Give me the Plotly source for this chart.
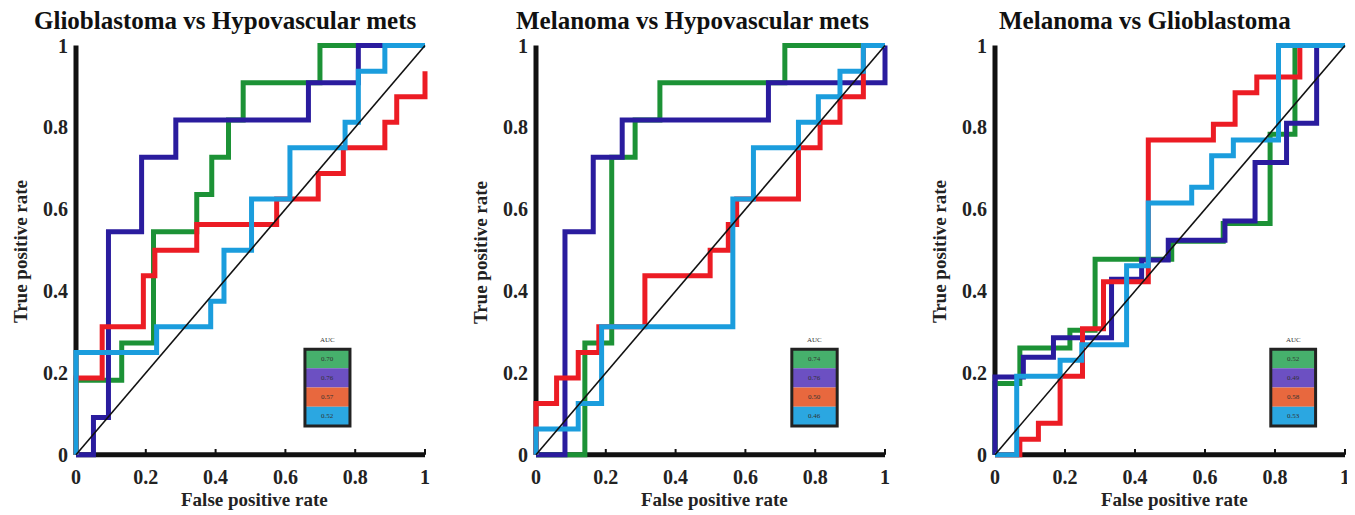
import plotly.graph_objects as go

# ---------------- data ----------------
titles = ["Glioblastoma vs Hypovascular mets",
          "Melanoma vs Hypovascular mets",
          "Melanoma vs Glioblastoma"]
x_title = "False positive rate"
y_title = "True positive rate"
tick_vals = [0, 0.2, 0.4, 0.6, 0.8, 1]
tick_text = ["0", "0.2", "0.4", "0.6", "0.8", "1"]
series_names = ["ROC 1", "ROC 2", "ROC 3", "ROC 4"]

# Panel 1: Glioblastoma vs Hypovascular mets (ROC vertices, step curve)
p1_green_fpr = [0, 0, 0.131, 0.222, 0.346, 0.389, 0.437, 0.479, 0.699, 1.0]
p1_green_tpr = [0, 0.182, 0.273, 0.545, 0.636, 0.727, 0.818, 0.909, 1.0, 1.0]
p1_blue_fpr = [0, 0.05, 0.093, 0.188, 0.286, 0.666, 0.809, 1.0]
p1_blue_tpr = [0, 0.091, 0.545, 0.727, 0.818, 0.909, 1.0, 1.0]
p1_red_fpr = [0, 0, 0.075, 0.193, 0.226, 0.346, 0.575, 0.694, 0.766, 0.885, 0.919, 1.0]
p1_red_tpr = [0, 0.1875, 0.3125, 0.4375, 0.5, 0.5625, 0.625, 0.6875, 0.75, 0.8125, 0.875, 0.9375]
p1_cyan_fpr = [0, 0, 0.231, 0.386, 0.424, 0.503, 0.613, 0.771, 0.809, 0.885, 1.0]
p1_cyan_tpr = [0, 0.25, 0.3125, 0.375, 0.5, 0.625, 0.75, 0.8125, 0.9375, 1.0, 1.0]
p1_auc = [0.70, 0.76, 0.57, 0.52]

# Panel 2: Melanoma vs Hypovascular mets
p2_green_fpr = [0, 0.14, 0.217, 0.284, 0.355, 0.713, 1.0]
p2_green_tpr = [0, 0.273, 0.727, 0.818, 0.909, 1.0, 1.0]
p2_blue_fpr = [0, 0.083, 0.164, 0.247, 0.666, 1.0, 1.0]
p2_blue_tpr = [0, 0.545, 0.727, 0.818, 0.909, 0.909, 1.0]
p2_red_fpr = [0, 0, 0.059, 0.121, 0.18, 0.312, 0.499, 0.551, 0.575, 0.752, 0.814, 0.871, 0.938, 0.938, 1.0]
p2_red_tpr = [0, 0.125, 0.1875, 0.25, 0.3125, 0.4375, 0.5, 0.5625, 0.625, 0.75, 0.8125, 0.875, 0.9375, 1.0, 1.0]
p2_cyan_fpr = [0, 0, 0.121, 0.188, 0.564, 0.623, 0.752, 0.809, 0.871, 0.938, 1.0]
p2_cyan_tpr = [0, 0.0625, 0.125, 0.3125, 0.625, 0.75, 0.8125, 0.875, 0.9375, 1.0, 1.0]
p2_auc = [0.74, 0.76, 0.50, 0.46]

# Panel 3: Melanoma vs Glioblastoma
p3_green_fpr = [0, 0, 0.071, 0.214, 0.286, 0.505, 0.652, 0.786, 0.857, 1.0]
p3_green_tpr = [0, 0.174, 0.261, 0.304, 0.478, 0.522, 0.565, 0.783, 1.0, 1.0]
p3_blue_fpr = [0, 0, 0.081, 0.167, 0.333, 0.419, 0.495, 0.657, 0.743, 0.833, 0.919, 1.0]
p3_blue_tpr = [0, 0.19, 0.238, 0.286, 0.429, 0.476, 0.524, 0.571, 0.714, 0.81, 1.0, 1.0]
p3_red_fpr = [0, 0.071, 0.124, 0.186, 0.25, 0.31, 0.438, 0.624, 0.686, 0.748, 0.871, 1.0]
p3_red_tpr = [0, 0.038, 0.077, 0.192, 0.308, 0.423, 0.769, 0.808, 0.885, 0.923, 1.0, 1.0]
p3_cyan_fpr = [0, 0.062, 0.186, 0.248, 0.376, 0.438, 0.562, 0.619, 0.681, 0.81, 1.0]
p3_cyan_tpr = [0, 0.192, 0.231, 0.269, 0.462, 0.615, 0.654, 0.731, 0.769, 1.0, 1.0]
p3_auc = [0.52, 0.49, 0.58, 0.53]

panels = [
    [(p1_green_fpr, p1_green_tpr), (p1_blue_fpr, p1_blue_tpr), (p1_red_fpr, p1_red_tpr), (p1_cyan_fpr, p1_cyan_tpr)],
    [(p2_green_fpr, p2_green_tpr), (p2_blue_fpr, p2_blue_tpr), (p2_red_fpr, p2_red_tpr), (p2_cyan_fpr, p2_cyan_tpr)],
    [(p3_green_fpr, p3_green_tpr), (p3_blue_fpr, p3_blue_tpr), (p3_red_fpr, p3_red_tpr), (p3_cyan_fpr, p3_cyan_tpr)],
]
aucs = [p1_auc, p2_auc, p3_auc]

# ---------------- style ----------------
line_colors = ["#1c9236", "#2a1c9e", "#ec1c24", "#1b9ddd"]
box_colors = ["#46b06c", "#6c50c2", "#e8683e", "#2ba7e1"]
FONT = "Liberation Serif"

OFF = 8                   # page body margin in the browser
W, H = 1355 - OFF, 515 - OFF


def pxx(p):
    return (p - OFF) / W


def pxy(p):
    return 1 - (p - OFF) / H


px0 = [76, 536, 995]      # screen pixel of fpr = 0
px1 = [425, 885, 1345]    # screen pixel of fpr = 1
py0, py1 = 457, 43        # screen pixel of tpr = 0 / 1
pad = 0.02
title_x = [225, 692, 1145]
box_x = [(0.656, 0.785), (0.733, 0.863), (0.788, 0.916)]
box_y = (0.07, 0.258)

fig = go.Figure()
layout = dict(width=W, height=H, autosize=False,
              margin=dict(l=0, r=0, t=0, b=0),
              paper_bgcolor="white", plot_bgcolor="white",
              showlegend=False, shapes=[], annotations=[])

for i in range(3):
    sfx = "" if i == 0 else str(i + 1)
    xref, yref = "x" + sfx, "y" + sfx
    ppx = px1[i] - px0[i]
    ppy = py0 - py1
    xdom = [pxx(px0[i] - pad * ppx), pxx(px1[i] + pad * ppx)]
    ydom = [pxy(py0 + pad * ppy), pxy(py1 - pad * ppy)]
    axis_common = dict(range=[-pad, 1 + pad], showgrid=False, zeroline=False,
                       showline=False, ticks="", tickvals=tick_vals, ticktext=tick_text,
                       tickfont=dict(family=FONT, size=20, color="#222", weight="bold"))
    layout["xaxis" + sfx] = dict(domain=xdom, anchor=yref, **axis_common)
    layout["yaxis" + sfx] = dict(domain=ydom, anchor=xref, **axis_common)

    # axis lines and small ticks
    layout["shapes"].append(dict(type="line", xref=xref, yref=yref, x0=0, y0=0, x1=1, y1=0,
                                 line=dict(color="#111", width=5), layer="below"))
    layout["shapes"].append(dict(type="line", xref=xref, yref=yref, x0=0, y0=0, x1=0, y1=1,
                                 line=dict(color="#111", width=5), layer="below"))
    for tv in tick_vals[1:]:
        layout["shapes"].append(dict(type="line", xref=xref, yref=yref, x0=tv, y0=0, x1=tv, y1=0.014,
                                     line=dict(color="#111", width=2), layer="below"))

    # ROC curves
    for k, (fx, ty) in enumerate(panels[i]):
        fig.add_trace(go.Scatter(x=fx, y=ty, mode="lines", name=series_names[k],
                                 line=dict(color=line_colors[k], width=5, shape="hv"),
                                 xaxis=xref, yaxis=yref, hoverinfo="skip"))
    # chance line
    fig.add_trace(go.Scatter(x=[0, 1], y=[0, 1], mode="lines", line=dict(color="#111", width=1.6),
                             xaxis=xref, yaxis=yref, hoverinfo="skip"))

    # AUC box
    bx0, bx1 = box_x[i]
    by0, by1 = box_y
    rh = (by1 - by0) / 4
    for k in range(4):
        yt = by1 - k * rh
        layout["shapes"].append(dict(type="rect", xref=xref, yref=yref, x0=bx0, x1=bx1,
                                     y0=yt - rh, y1=yt, fillcolor=box_colors[k],
                                     line=dict(width=0), layer="above"))
        layout["annotations"].append(dict(xref=xref, yref=yref, x=(bx0 + bx1) / 2, y=yt - rh / 2,
                                          text=f"{aucs[i][k]:.2f}", showarrow=False,
                                          font=dict(family=FONT, size=7, color="#333")))
    layout["shapes"].append(dict(type="rect", xref=xref, yref=yref, x0=bx0, x1=bx1, y0=by0, y1=by1,
                                 line=dict(color="#222", width=3), layer="above"))
    layout["annotations"].append(dict(xref=xref, yref=yref, x=(bx0 + bx1) / 2, y=by1 + 0.008,
                                      text="AUC", showarrow=False, yanchor="bottom",
                                      font=dict(family=FONT, size=7, color="#333")))

    # titles
    layout["annotations"].append(dict(xref="paper", yref="paper", x=pxx(title_x[i]), y=pxy(18),
                                      text=f"<b>{titles[i]}</b>", showarrow=False,
                                      xanchor="center", yanchor="middle",
                                      font=dict(family=FONT, size=25, color="#111")))
    layout["annotations"].append(dict(xref="paper", yref="paper",
                                      x=pxx((px0[i] + px1[i]) / 2 + 4), y=pxy(502),
                                      text=f"<b>{x_title}</b>", showarrow=False,
                                      xanchor="center", yanchor="middle",
                                      font=dict(family=FONT, size=19, color="#222")))
    layout["annotations"].append(dict(xref="paper", yref="paper",
                                      x=pxx(px0[i] - 56), y=pxy(252),
                                      text=f"<b>{y_title}</b>", showarrow=False, textangle=-90,
                                      xanchor="center", yanchor="middle",
                                      font=dict(family=FONT, size=19, color="#222")))

fig.update_layout(**layout)
fig.write_html("out.html")
